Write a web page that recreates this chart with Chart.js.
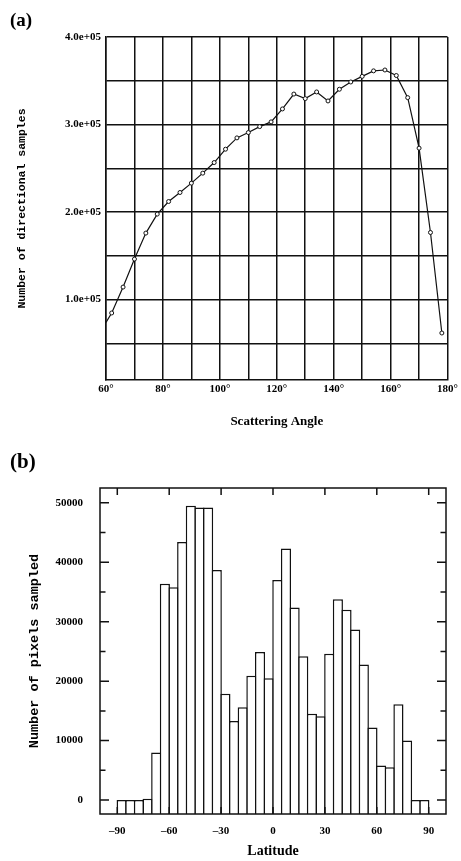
<!DOCTYPE html>
<html lang="en">
<head>
<meta charset="UTF-8">
<title>Directional samples and latitude histogram</title>
<script src="https://cdn.jsdelivr.net/npm/chart.js@4.4.1/dist/chart.umd.min.js"></script>
<style>
  body { margin: 0; background: #fff; }
  .wrap { position: relative; width: 461px; height: 861px; }
  canvas { position: absolute; left: 0; }
  #chartA { top: 0; }
  #chartB { top: 435px; }
  .tag { position: absolute; left: 10px; font-family: "Liberation Serif", serif; font-weight: bold; }
</style>
</head>
<body>
<div class="wrap">
  <canvas id="chartA" width="461" height="435"></canvas>
  <canvas id="chartB" width="461" height="426"></canvas>
  <div class="tag" style="top:10px; font-size:19px; line-height:20px">(a)</div>
  <div class="tag" style="top:450px; font-size:21px; line-height:22px">(b)</div>
</div>
<script>
// (a) directional samples per scattering angle
const angles = [60, 62, 66, 70, 74, 78, 82, 86, 90, 94, 98, 102, 106, 110, 114, 118,
  122, 126, 130, 134, 138, 142, 146, 150, 154, 158, 162, 166, 170, 174, 178];
const samples = [73800, 84600, 114200, 146200, 175900, 197600, 212000, 222300, 233000,
  244400, 256500, 271800, 284700, 290800, 297600, 303000, 317800, 334800, 329600, 337200,
  326900, 340300, 348600, 355000, 361300, 362300, 356000, 330700, 273000, 176600, 61700];
const sampleTicks = [50000, 100000, 150000, 200000, 250000, 300000, 350000, 400000];

// (b) pixels sampled per 5 degree latitude bin (left edge of bin)
const latBins = [-90, -85, -80, -75, -70, -65, -60, -55, -50, -45, -40, -35, -30, -25,
  -20, -15, -10, -5, 0, 5, 10, 15, 20, 25, 30, 35, 40, 45, 50, 55, 60, 65, 70, 75, 80, 85];
const pixelCounts = [0, 0, 0, 200, 8000, 36400, 35800, 43400, 49500, 49200, 49200, 38700,
  17900, 13300, 15600, 20900, 24900, 20500, 37000, 42300, 32400, 24200, 14500, 14100,
  24600, 33800, 32000, 28700, 22800, 12200, 5800, 5500, 16100, 10000, 0, 0];
const latTicks = [-90, -60, -30, 0, 30, 60, 90];
const countTicks = [0, 10000, 20000, 30000, 40000, 50000];
const countMinorTicks = [0, 5000, 10000, 15000, 20000, 25000, 30000, 35000, 40000, 45000, 50000];
const countMin = -2350;

const serif = '"Liberation Serif", "Times New Roman", serif';
const mono = '"Liberation Mono", "Courier New", monospace';
const ink = '#111';
Chart.defaults.color = '#000';
Chart.defaults.font.family = serif;

// inward tick marks and closed frame for the histogram
const frameTicks = {
  id: 'frameTicks',
  afterDatasetsDraw(chart) {
    const {ctx, chartArea: a, scales: {x, y}} = chart;
    ctx.save();
    ctx.strokeStyle = ink;
    ctx.lineWidth = 1.5;
    ctx.strokeRect(a.left, a.top, a.right - a.left, a.bottom - a.top);
    ctx.beginPath();
    latTicks.forEach(v => {
      const px = x.getPixelForValue(v);
      ctx.moveTo(px, a.top); ctx.lineTo(px, a.top + 7);
      ctx.moveTo(px, a.bottom); ctx.lineTo(px, a.bottom - 7);
    });
    countMinorTicks.forEach(v => {
      const py = y.getPixelForValue(v);
      const len = v % 10000 === 0 ? 9 : 5.5;
      ctx.moveTo(a.left, py); ctx.lineTo(a.left + len, py);
      ctx.moveTo(a.right, py); ctx.lineTo(a.right - len, py);
    });
    ctx.stroke();
    ctx.restore();
  }
};

new Chart(document.getElementById('chartA'), {
  type: 'line',
  data: {
    datasets: [{
      data: angles.map((a, i) => ({x: a, y: samples[i]})),
      borderColor: ink,
      borderWidth: 1.2,
      tension: 0,
      pointRadius: ctx => ctx.dataIndex === 0 ? 0 : 2,
      pointBorderWidth: 1,
      pointBorderColor: ink,
      pointBackgroundColor: '#fff'
    }]
  },
  options: {
    responsive: false,
    animation: false,
    layout: { padding: { top: 37, right: 10, left: 0, bottom: 0 } },
    plugins: { legend: { display: false }, tooltip: { enabled: false } },
    scales: {
      x: {
        type: 'linear', min: 60, max: 180,
        grid: { color: ink, lineWidth: 1.5, drawTicks: false },
        border: { color: ink, width: 1.5 },
        ticks: {
          stepSize: 10, autoSkip: false, maxRotation: 0, padding: 3,
          font: { size: 11, weight: 'bold' },
          callback: v => v % 20 === 0 ? v + '°' : ''
        },
        title: { display: true, text: 'Scattering Angle', font: { size: 13, weight: 'bold' }, padding: { top: 0, bottom: 6 } },
        afterFit: s => { s.height = 55; }
      },
      y: {
        min: 8000, max: 400000,
        afterBuildTicks: s => { s.ticks = sampleTicks.map(v => ({value: v})); },
        grid: { color: ink, lineWidth: 1.5, drawTicks: false },
        border: { color: ink, width: 1.5 },
        ticks: {
          padding: 5, autoSkip: false,
          font: { size: 11, weight: 'bold' },
          callback: v => v % 100000 === 0 ? v.toExponential(1).replace(/e\+(\d)$/, 'e+0$1') : ''
        },
        title: { display: true, text: 'Number of directional samples', font: { family: mono, size: 11.5, weight: 'bold' }, padding: { top: 15, bottom: 0 } },
        afterFit: s => { s.width = 106; }
      }
    }
  }
});

new Chart(document.getElementById('chartB'), {
  type: 'bar',
  data: {
    datasets: [{
      data: latBins.map((b, i) => ({x: b + 2.5, y: pixelCounts[i]})),
      backgroundColor: '#fff',
      borderColor: ink,
      borderWidth: 1.5,
      base: countMin,
      categoryPercentage: 1,
      barPercentage: 1.172
    }]
  },
  options: {
    responsive: false,
    animation: false,
    layout: { padding: { top: 53, right: 15, left: 0, bottom: 0 } },
    plugins: { legend: { display: false }, tooltip: { enabled: false } },
    scales: {
      x: {
        type: 'linear', min: -100, max: 100, offset: false,
        afterBuildTicks: s => { s.ticks = latTicks.map(v => ({value: v})); },
        grid: { display: false },
        border: { display: false },
        ticks: {
          padding: 3, autoSkip: false, maxRotation: 0,
          font: { size: 11, weight: 'bold' },
          callback: v => String(v).replace('-', '\u2013')
        },
        title: { display: true, text: 'Latitude', font: { size: 14, weight: 'bold' }, padding: { top: 0, bottom: 1 } },
        afterFit: s => { s.height = 47; }
      },
      y: {
        min: countMin, max: 52500,
        afterBuildTicks: s => { s.ticks = countTicks.map(v => ({value: v})); },
        grid: { display: false },
        border: { display: false },
        ticks: { padding: 9, autoSkip: false, font: { size: 11, weight: 'bold' } , callback: v => String(v) },
        title: { display: true, text: 'Number of pixels sampled', font: { family: mono, size: 13.5, weight: 'bold' }, padding: { top: 26, bottom: 0 } },
        afterFit: s => { s.width = 100; }
      }
    }
  },
  plugins: [frameTicks]
});
</script>
</body>
</html>
